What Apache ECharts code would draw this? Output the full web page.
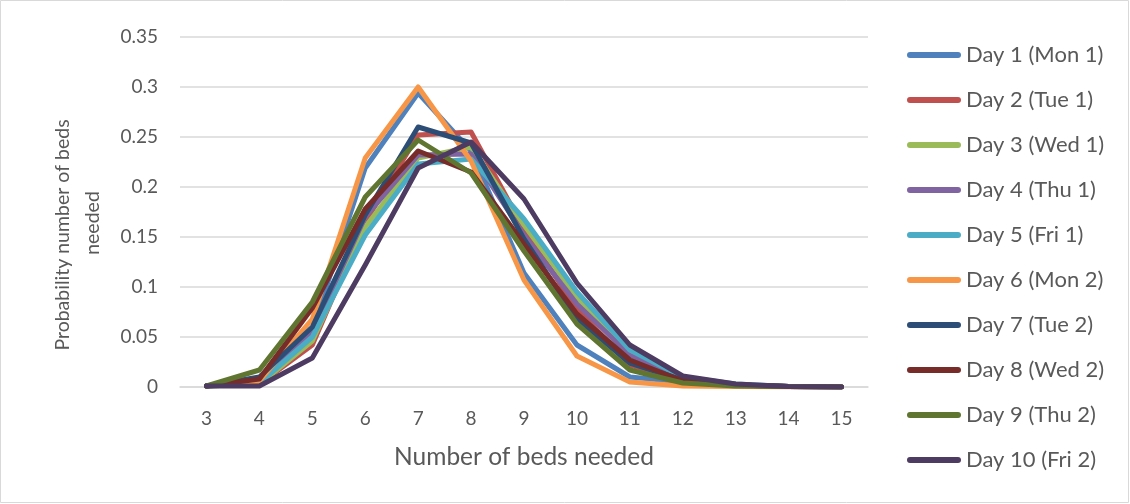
<!DOCTYPE html>
<html>
<head>
<meta charset="utf-8">
<script src="https://cdn.jsdelivr.net/npm/echarts@6/dist/echarts.min.js"></script>
<style>
  html, body { margin: 0; padding: 0; background: #fff; }
  #chart { width: 1130px; height: 504px; }
</style>
</head>
<body>
<div id="chart"></div>
<script>
// Number of beds needed (category axis)
const beds = ['3', '4', '5', '6', '7', '8', '9', '10', '11', '12', '13', '14', '15'];

// Probability of each bed count, one array per day
const day1  = [0.001, 0.005, 0.057, 0.219, 0.294, 0.236, 0.114, 0.042, 0.010, 0.005, 0.002, 0.0005, 0];
const day2  = [0.001, 0.003, 0.042, 0.165, 0.252, 0.255, 0.158, 0.078, 0.022, 0.007, 0.002, 0.0005, 0];
const day3  = [0.001, 0.003, 0.046, 0.160, 0.229, 0.240, 0.162, 0.090, 0.030, 0.008, 0.002, 0.0005, 0];
const day4  = [0.001, 0.005, 0.055, 0.170, 0.232, 0.233, 0.152, 0.083, 0.032, 0.008, 0.002, 0.0005, 0];
const day5  = [0.001, 0.004, 0.050, 0.152, 0.223, 0.228, 0.168, 0.095, 0.037, 0.010, 0.003, 0.0005, 0];
const day6  = [0.001, 0.006, 0.068, 0.229, 0.300, 0.226, 0.107, 0.031, 0.005, 0.001, 0.0005, 0, 0];
const day7  = [0.001, 0.010, 0.060, 0.172, 0.260, 0.244, 0.148, 0.068, 0.024, 0.007, 0.002, 0.0005, 0];
const day8  = [0.001, 0.008, 0.079, 0.178, 0.236, 0.215, 0.143, 0.073, 0.027, 0.006, 0.002, 0.0005, 0];
const day9  = [0.001, 0.017, 0.085, 0.190, 0.247, 0.214, 0.136, 0.063, 0.017, 0.004, 0.001, 0.0005, 0];
const day10 = [0.001, 0.001, 0.029, 0.122, 0.219, 0.245, 0.188, 0.104, 0.042, 0.011, 0.003, 0.0005, 0];

const seriesNames = [
  'Day 1 (Mon 1)', 'Day 2 (Tue 1)', 'Day 3 (Wed 1)', 'Day 4 (Thu 1)', 'Day 5 (Fri 1)',
  'Day 6 (Mon 2)', 'Day 7 (Tue 2)', 'Day 8 (Wed 2)', 'Day 9 (Thu 2)', 'Day 10 (Fri 2)'
];
const seriesData = [day1, day2, day3, day4, day5, day6, day7, day8, day9, day10];
const palette = [
  '#4F81BD', '#C0504D', '#9BBB59', '#8064A2', '#4BACC6',
  '#F79646', '#2C4D75', '#772C2A', '#5F7530', '#4D3B62'
];

const FONT = 'Lato, "Open Sans", sans-serif';
const TEXT = '#595959';

const chart = echarts.init(document.getElementById('chart'), null, { renderer: 'canvas' });

// Rotated y-axis title, drawn as two lines reading bottom to top
function yTitleLine(text, x, y) {
  return {
    type: 'text',
    x: x,
    y: y,
    rotation: Math.PI / 2,
    style: {
      text: text,
      fontFamily: FONT,
      fontSize: 19.5,
      fill: TEXT,
      align: 'center',
      verticalAlign: 'middle'
    },
    silent: true
  };
}

chart.setOption({
  animation: false,
  color: palette,
  textStyle: { fontFamily: FONT, color: TEXT },
  grid: { left: 180, right: 262, top: 37, bottom: 117, containLabel: false },
  legend: {
    orient: 'vertical',
    left: 907,
    top: 44,
    padding: 0,
    itemWidth: 54,
    itemHeight: 6,
    itemGap: 23,
    icon: 'path://M3,0 H51 A3,3 0 0 1 51,6 H3 A3,3 0 0 1 3,0 Z',
    textStyle: { fontFamily: FONT, fontSize: 22, color: TEXT, lineHeight: 20 },
    data: seriesNames
  },
  xAxis: {
    type: 'category',
    data: beds,
    boundaryGap: true,
    name: 'Number of beds needed',
    nameLocation: 'middle',
    nameGap: 58,
    nameTextStyle: { fontFamily: FONT, fontSize: 24.5, color: TEXT },
    axisLine: { lineStyle: { color: '#d9d9d9', width: 1.5 } },
    axisTick: { show: false },
    axisLabel: { fontFamily: FONT, fontSize: 19, color: TEXT, margin: 22 }
  },
  yAxis: {
    type: 'value',
    min: 0,
    max: 0.35,
    interval: 0.05,
    axisLine: { show: false },
    axisTick: { show: false },
    axisLabel: { fontFamily: FONT, fontSize: 19, color: TEXT, margin: 22 },
    splitLine: { lineStyle: { color: '#d9d9d9', width: 1.5 } }
  },
  graphic: [
    {
      type: 'rect',
      shape: { x: 0.5, y: 0.5, width: 1128, height: 502 },
      style: { fill: 'none', stroke: '#d9d9d9', lineWidth: 1 },
      silent: true
    },
    yTitleLine('Probability number of beds', 63, 235),
    yTitleLine('needed', 93, 223)
  ],
  series: seriesNames.map((name, i) => ({
    name: name,
    type: 'line',
    data: seriesData[i],
    symbol: 'none',
    smooth: false,
    lineStyle: { width: 5, cap: 'round', join: 'round' },
    emphasis: { disabled: true }
  }))
});
</script>
</body>
</html>
